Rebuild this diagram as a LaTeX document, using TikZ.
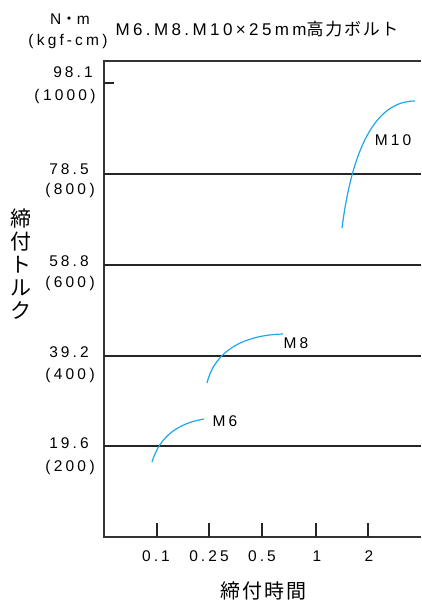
\documentclass[tikz,border=0pt]{standalone}
\usepackage{fontspec}
\setmainfont{Liberation Sans}[LetterSpace=20]
\newfontfamily\jp{Noto Sans CJK JP}[LetterSpace=10]
\newfontfamily\jpv{Noto Sans CJK JP}
\definecolor{curvecol}{RGB}{30,168,230}
\newcommand{\pk}{\kern3.5pt}
\begin{document}
\begin{tikzpicture}[x=1pt,y=-1pt,
  frame/.style={draw=black!80,line width=1.4pt},
  grid/.style={draw=black!85,line width=1.2pt},
  curve/.style={draw=curvecol,line width=1.2pt},
  lab/.style={inner sep=0pt,font=\fontsize{15.5}{15.5}\selectfont},
  clab/.style={inner sep=0pt,font=\fontsize{15.5}{15.5}\selectfont},
]
\useasboundingbox (0,0) rectangle (421,603);
% frame
\coordinate (tl) at (104,61);
\coordinate (bl) at (104,537);
\coordinate (tr) at (421,61);
\coordinate (br) at (421,537);
\draw[frame] (tr) -- (tl) -- (bl) -- (br);
% grid lines
\foreach \y in {174,265,356,446}{\draw[grid] (104,\y) -- (421,\y);}
\draw[grid] (104,83) -- (114,83);
% x ticks
\foreach \x in {157,209,262,316,368}{\draw[grid] (\x,523) -- (\x,537);}
% y labels
\node[lab] (y1a) at (73,72) {98.1};
\node[lab] (y1b) at (65,96) {(\pk1000\pk)};
\node[lab] (y2a) at (69,169) {78.5};
\node[lab] (y2b) at (70,190) {(\pk800\pk)};
\node[lab] (y3a) at (69,261) {58.8};
\node[lab] (y3b) at (70,283) {(\pk600\pk)};
\node[lab] (y4a) at (69,352) {39.2};
\node[lab] (y4b) at (70,375) {(\pk400\pk)};
\node[lab] (y5a) at (69,443) {19.6};
\node[lab] (y5b) at (70,467) {(\pk200\pk)};
% units
\node[lab] (u1) at (70,19) {N{\jp ・}m};
\node[lab] (u2) at (68,41) {(\pk kgf-cm\pk)};
% title
\node[inner sep=0pt,font=\fontsize{17}{17}\selectfont] (title) at (257,29) {M6.M8.M10×25mm{\jp 高力ボルト}};
% x labels
\node[lab] (x1) at (156,556) {0.1};
\node[lab] (x2) at (209,556) {0.25};
\node[lab] (x3) at (262,556) {0.5};
\node[lab] (x4) at (317,556) {1};
\node[lab] (x5) at (369,556) {2};
% axis titles
\node[inner sep=0pt,font=\jp\fontsize{20}{20}\selectfont] (xt) at (263,591) {締付時間};
\node[inner sep=0pt,align=center,font=\jpv\fontsize{21}{23}\selectfont] (yt) at (21,264) {締\\付\\ト\\ル\\ク};
% curves
\draw[curve] (152,462) .. controls (160,435) and (180,423) .. (204,419);
\draw[curve] (207,383) .. controls (215,350) and (245,335) .. (283,334);
\draw[curve] (342,228) .. controls (352,150) and (375,101) .. (415,101);
% curve labels
\node[clab] (m6) at (225,421) {M6};
\node[clab] (m8) at (296,343) {M8};
\node[clab] (m10) at (393,140) {M10};
\end{tikzpicture}
\end{document}
